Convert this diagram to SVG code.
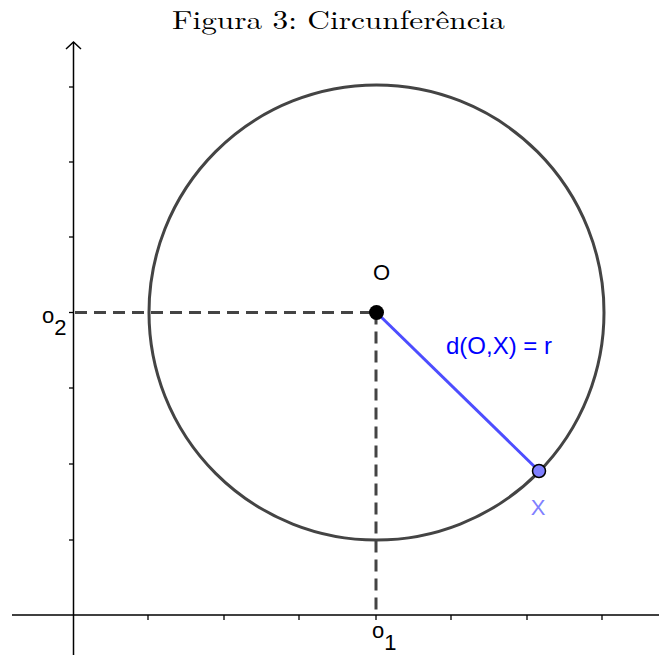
<svg xmlns="http://www.w3.org/2000/svg" width="659" height="655" viewBox="0 0 659 655">
<style>
.axis{stroke:#000;stroke-width:1.5;fill:none}
.tick{stroke:#000;stroke-width:1.3}
.dash{stroke:#444;stroke-width:3;stroke-dasharray:12,7;fill:none}
.lbl{font-family:"Liberation Sans",Arial,sans-serif;font-size:22px}
</style>
<rect width="659" height="655" fill="#fff"/>
<text x="172" y="29" textLength="333" lengthAdjust="spacingAndGlyphs" font-family="'Latin Modern Roman','Liberation Serif',serif" font-size="26">Figura 3: Circunferência</text>
<g id="axes">
<line class="axis" x1="12" y1="615" x2="659" y2="615"/>
<line class="axis" x1="73.5" y1="655" x2="73.5" y2="42"/>
<polyline class="axis" points="66,49 73.5,42 81,49"/>
<g class="tick">
<line x1="148" y1="615" x2="148" y2="620"/>
<line x1="224" y1="615" x2="224" y2="620"/>
<line x1="299" y1="615" x2="299" y2="620"/>
<line x1="376" y1="615" x2="376" y2="620"/>
<line x1="451" y1="615" x2="451" y2="620"/>
<line x1="527" y1="615" x2="527" y2="620"/>
<line x1="602" y1="615" x2="602" y2="620"/>
<line x1="69" y1="87" x2="73.5" y2="87"/>
<line x1="69" y1="162" x2="73.5" y2="162"/>
<line x1="69" y1="237" x2="73.5" y2="237"/>
<line x1="69" y1="312.5" x2="73.5" y2="312.5"/>
<line x1="69" y1="388" x2="73.5" y2="388"/>
<line x1="69" y1="464" x2="73.5" y2="464"/>
<line x1="69" y1="540" x2="73.5" y2="540"/>
</g>
</g>
<g id="circle">
<circle cx="376.5" cy="312.5" r="227.5" fill="none" stroke="#444" stroke-width="3"/>
</g>
<g id="connectors">
<line class="dash" x1="75" y1="312.5" x2="376" y2="312.5"/>
<line class="dash" x1="376" y1="312.5" x2="376" y2="614"/>
<line x1="376.5" y1="312.5" x2="539" y2="471" stroke="#4d4dff" stroke-width="3"/>
</g>
<g id="O">
<circle cx="376.5" cy="312.5" r="7.5" fill="#000"/>
<text class="lbl" x="381.5" y="280" text-anchor="middle">O</text>
</g>
<g id="X">
<circle cx="539" cy="471" r="6.5" fill="#7f7fff" stroke="#000" stroke-width="1.5"/>
<text class="lbl" x="538" y="515" text-anchor="middle" fill="#8080ff">X</text>
</g>
<g id="label-r">
<text class="lbl" x="446" y="354" fill="#0000ff" style="font-size:24px">d(O,X) = r</text>
</g>
<g id="o2">
<text class="lbl" x="42" y="323">o<tspan dy="12">2</tspan></text>
</g>
<g id="o1">
<text class="lbl" x="372" y="638">o<tspan dy="12">1</tspan></text>
</g>
</svg>
